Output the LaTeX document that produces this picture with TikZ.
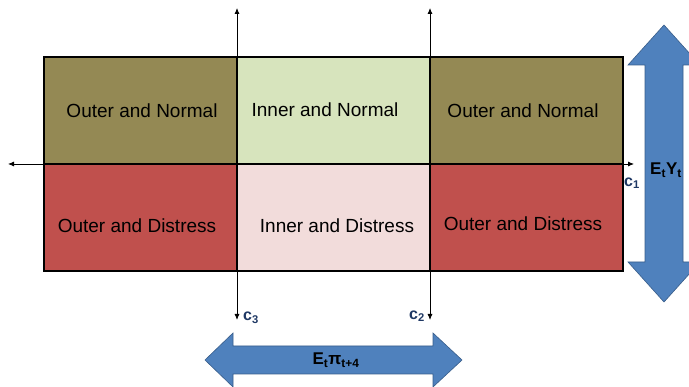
\documentclass[tikz,border=0pt]{standalone}
\usepackage{fontspec}
\setmainfont{Liberation Sans}
\usetikzlibrary{arrows.meta,shapes.arrows}
\definecolor{olive}{RGB}{148,137,84}
\definecolor{lgreen}{RGB}{215,228,189}
\definecolor{dred}{RGB}{192,80,77}
\definecolor{lpink}{RGB}{242,220,219}
\definecolor{bigblue}{RGB}{79,129,189}
\definecolor{bigblueedge}{RGB}{56,93,138}
\definecolor{lblblue}{RGB}{31,56,100}
\tikzset{
  cell/.style={draw=black,line width=2pt,minimum width=193pt,minimum height=107pt,inner sep=0pt,outer sep=0pt},
  celltext/.style={font=\fontsize{19}{22}\selectfont,inner sep=0pt},
  axis/.style={draw=black,line width=0.8pt,-{Latex[length=6pt,width=5pt]}},
  clabel/.style={text=lblblue,font=\bfseries\fontsize{16}{18}\selectfont,inner sep=0pt},
  bigarrow/.style={fill=bigblue,draw=bigblueedge,line width=0.6pt},
  biglabel/.style={font=\bfseries\fontsize{17}{19}\selectfont,inner sep=0pt}
}
\begin{document}
\begin{tikzpicture}[x=1pt,y=-1pt]
\useasboundingbox (0,0) rectangle (689,387);
% cells
\node[cell,fill=olive,anchor=north west] (on1) at (44,57) {};
\node[cell,fill=lgreen,anchor=north west] (in) at (237,57) {};
\node[cell,fill=olive,anchor=north west] (on2) at (430,57) {};
\node[cell,fill=dred,anchor=north west] (od1) at (44,164) {};
\node[cell,fill=lpink,anchor=north west] (id) at (237,164) {};
\node[cell,fill=dred,anchor=north west] (od2) at (430,164) {};
\node[celltext] (t1) at (142,111) {Outer and Normal};
\node[celltext] (t2) at (325,110) {Inner and Normal};
\node[celltext] (t3) at (523,111) {Outer and Normal};
\node[celltext] (t4) at (137,226) {Outer and Distress};
\node[celltext] (t5) at (337,226) {Inner and Distress};
\node[celltext] (t6) at (523,224) {Outer and Distress};
% axes
\coordinate (hl) at (8,164);
\coordinate (hr) at (634,164);
\coordinate (vt) at (0,8);
\coordinate (vb) at (0,320);
\draw[axis] (on2.south east) -- (hr);
\draw[axis] (on2.south east) -- (hl);
\draw[axis] (in.north west) -- (in.north west |- vt);
\draw[axis] (id.south west) -- (id.south west |- vb);
\draw[axis] (in.north east) -- (in.north east |- vt);
\draw[axis] (id.south east) -- (id.south east |- vb);
\node[clabel] (c1) at (632,183) {c\textsubscript{1}};
\node[clabel] (c3) at (251,318) {c\textsubscript{3}};
\node[clabel] (c2) at (417,316) {c\textsubscript{2}};
% big vertical arrow
\draw[bigarrow] (664,25) -- (700,65) -- (683,65) -- (683,262) -- (700,262) -- (664,302) -- (628,262) -- (645,262) -- (645,65) -- (628,65) -- cycle;
\node[biglabel] (ey) at (666,170) {E\textsubscript{t}Y\textsubscript{t}};
% big horizontal arrow
\draw[bigarrow] (205,360) -- (233,333) -- (233,346) -- (433,346) -- (433,333) -- (462,360) -- (433,387) -- (433,374) -- (233,374) -- (233,387) -- cycle;
\node[biglabel] (epi) at (336,360) {E\textsubscript{t}\textbf{π}\textsubscript{t+4}};
\end{tikzpicture}
\end{document}
